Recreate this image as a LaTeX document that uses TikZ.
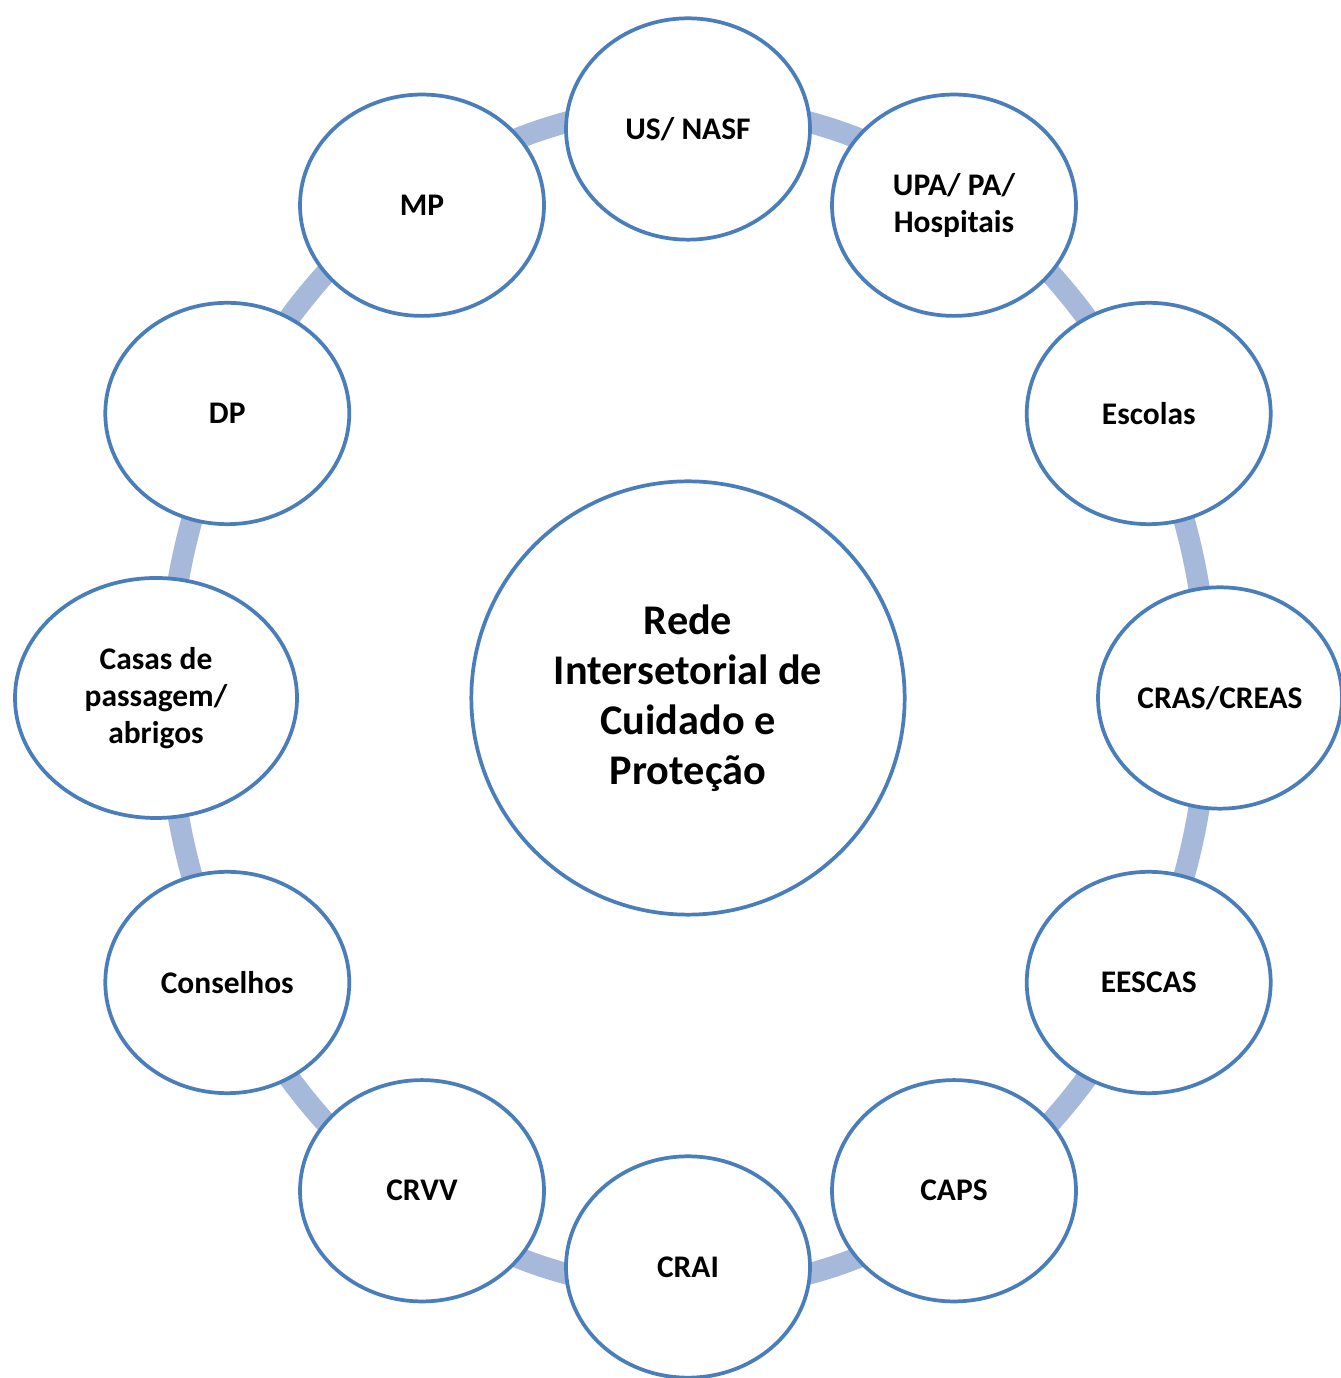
\documentclass[tikz,border=0pt]{standalone}
\usepackage{fontspec}
\setmainfont{Carlito}
\usetikzlibrary{shapes.geometric,calc}
\definecolor{rim}{RGB}{74,126,187}
\definecolor{band}{RGB}{167,185,218}
\tikzset{
  unit/.style={ellipse, draw=rim, line width=2.8pt, fill=white, inner sep=0pt,
    minimum width=183pt, minimum height=166pt, align=center,
    font=\fontsize{23.6}{27.75}\selectfont\bfseries},
  hubnode/.style={circle, draw=rim, line width=2.8pt, fill=white, inner sep=0pt,
    minimum size=325pt, align=center,
    font=\fontsize{31.7}{37.5}\selectfont\bfseries},
  ring/.style={draw=band, line width=16pt}
}
\begin{document}
\begin{tikzpicture}[x=0.75pt,y=0.75pt]
  \useasboundingbox (0,0) rectangle (1340,1378);
  \fill[white] (0,0) rectangle (1340,1378);

  % central hub
  \node[hubnode] (hub) at (688,680) {Rede\\Intersetorial de\\Cuidado e\\Proteção};

  % connecting ring behind the partner services
  \draw[ring] (hub.center) ellipse [x radius=520, y radius=592];

  % partner services placed every 30 degrees on an ellipse around the hub
  \node[unit] (usnasf)    at ($(hub.center)+(90:532 and 569)$)  {US/ NASF};
  \node[unit] (upa)       at ($(hub.center)+(60:532 and 569)$)  {UPA/ PA/\\Hospitais};
  \node[unit] (escolas)   at ($(hub.center)+(30:532 and 569)$)  {Escolas};
  \node[unit] (cras)      at ($(hub.center)+(0:532 and 569)$)   {CRAS/CREAS};
  \node[unit] (eescas)    at ($(hub.center)+(-30:532 and 569)$) {EESCAS};
  \node[unit] (caps)      at ($(hub.center)+(-60:532 and 569)$) {CAPS};
  \node[unit] (crai)      at ($(hub.center)+(-90:532 and 569)$) {CRAI};
  \node[unit] (crvv)      at ($(hub.center)+(-120:532 and 569)$) {CRVV};
  \node[unit] (conselhos) at ($(hub.center)+(-150:532 and 569)$) {Conselhos};
  \node[unit, minimum width=211.5pt, minimum height=180pt] (casas)
                          at ($(hub.center)+(180:532 and 569)$) {Casas de\\passagem/\\abrigos};
  \node[unit] (dp)        at ($(hub.center)+(150:532 and 569)$) {DP};
  \node[unit] (mp)        at ($(hub.center)+(120:532 and 569)$) {MP};
\end{tikzpicture}
\end{document}
